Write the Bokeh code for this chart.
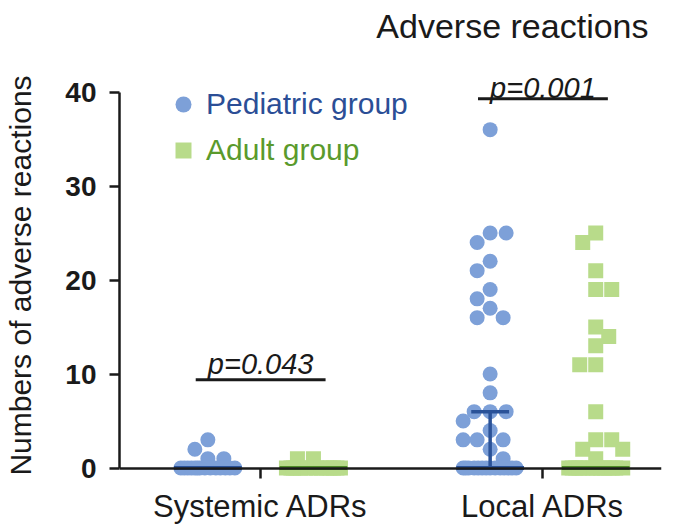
import numpy as np
from bokeh.plotting import figure
from bokeh.models import (Range1d, FixedTicker, Legend, LegendItem, ColumnDataSource,
                          LinearAxis)
from bokeh.embed import file_html
from bokeh.resources import INLINE

# ---------------- data ----------------
categories = ["Systemic ADRs", "Local ADRs"]
group_names = ["Pediatric group", "Adult group"]

pediatric_systemic = [3, 2, 1, 1,
                      0, 0, 0, 0, 0, 0, 0, 0, 0, 0, 0, 0, 0, 0]
pediatric_local = [36, 25, 25, 24, 22, 21, 19, 18, 17, 16, 16, 10, 8,
                   6, 6, 6, 5, 4, 3, 3, 3, 2, 1,
                   0, 0, 0, 0, 0, 0, 0, 0, 0, 0, 0, 0, 0, 0]
adult_systemic = [1, 1,
                  0, 0, 0, 0, 0, 0, 0, 0, 0, 0, 0, 0, 0, 0]
adult_local = [25, 24, 21, 19, 19, 15, 14, 13, 11, 11, 6, 3, 3, 2, 2, 1,
               0, 0, 0, 0, 0, 0, 0, 0, 0, 0, 0, 0, 0, 0]

# median and interquartile range (per category)
pediatric_median = [0, 0]
pediatric_q1 = [0, 0]
pediatric_q3 = [0, 6]
adult_median = [0, 0]
adult_q1 = [0, 0]
adult_q3 = [0, 0]

p_labels = ["p=0.043", "p=0.001"]
bracket_heights = [9.4, 39.3]
p_label_heights = [11.1, 40.4]

y_ticks = [0, 10, 20, 30, 40]
title_text = "Adverse reactions"
y_label = "Numbers of adverse reactions"

# ---------------- layout / style ----------------
FONT = "Liberation Sans"
X_START, X_END = 0.0, 1.92
Y_START, Y_END = -3.56, 44.53
FIG_W, FIG_H = 685, 527
B_LEFT, B_RIGHT, B_TOP, B_BOTTOM = 119, 24, 49, 26
FRAME_W = FIG_W - B_LEFT - B_RIGHT
FRAME_H = FIG_H - B_TOP - B_BOTTOM
PX_X = FRAME_W / (X_END - X_START)
PX_Y = FRAME_H / (Y_END - Y_START)
DODGE = 0.187
MEDIAN_HALF = 0.12
CAP_HALF = 0.067
BRACKET_HALF = 0.23

PED_COLOR = "#7DA0D8"
ADULT_COLOR = "#B8DB8A"
PED_DARK = "#2A5298"
ADULT_DARK = "#4F8C28"
PED_TEXT = "#2B4E96"
ADULT_TEXT = "#5A9A2C"
INK = "#1a1a1a"


def swarm(vals, d=16.0, cap=27.0):
    """Deterministic beeswarm offsets in screen pixels."""
    v = np.asarray(vals, dtype=float)
    order = np.argsort(-v, kind="stable")
    ys = v * PX_Y
    xs = np.zeros(len(v))
    placed = []
    grid = np.arange(-cap, cap + 0.01, 0.5)
    for k, i in enumerate(order):
        if not placed:
            xs[i] = 0.0
            placed.append(i)
            continue
        px = xs[placed]
        py = ys[placed]
        dist = np.sqrt((grid[:, None] - px[None, :]) ** 2
                       + (ys[i] - py[None, :]) ** 2).min(axis=1)
        ok = dist >= d
        if ok.any():
            cand = grid[ok]
            best = np.min(np.abs(cand))
            choices = cand[np.isclose(np.abs(cand), best)]
            xs[i] = choices.max() if k % 2 == 0 else choices.min()
        else:
            xs[i] = grid[np.argmax(dist)]
        placed.append(i)
    return xs


def build(series_list, dodge):
    xs, ys = [], []
    for ci, vals in enumerate(series_list):
        off = swarm(vals) / PX_X
        center = ci + 0.5 + dodge
        xs.extend(list(center + off))
        ys.extend(vals)
    return ColumnDataSource(dict(x=xs, y=ys))


p = figure(width=FIG_W, height=FIG_H,
           x_range=Range1d(X_START, X_END), y_range=Range1d(Y_START, Y_END),
           output_backend="svg", toolbar_location=None,
           min_border_left=B_LEFT, min_border_right=B_RIGHT,
           min_border_top=B_TOP, min_border_bottom=B_BOTTOM)
p.outline_line_color = None
p.xgrid.visible = False
p.ygrid.visible = False
p.background_fill_color = "white"
p.border_fill_color = "white"

# title
p.title.text = title_text
p.title.align = "right"
p.title.offset = 13
p.title.standoff = 9
p.title.text_font = FONT
p.title.text_font_size = "34px"
p.title.text_font_style = "normal"
p.title.text_color = INK

# scatter points
src_ped = build([pediatric_systemic, pediatric_local], -DODGE)
src_adult = build([adult_systemic, adult_local], DODGE)
r_ped = p.scatter("x", "y", source=src_ped, marker="circle", size=15,
                  fill_color=PED_COLOR, line_color=None)
r_adult = p.scatter("x", "y", source=src_adult, marker="square", size=15,
                    fill_color=ADULT_COLOR, line_color=None)

# median lines and interquartile bars
for dodge, med, q1, q3, col in [(-DODGE, pediatric_median, pediatric_q1, pediatric_q3, PED_DARK),
                                 (DODGE, adult_median, adult_q1, adult_q3, ADULT_DARK)]:
    centers = [i + 0.5 + dodge for i in range(len(categories))]
    p.segment(x0=[c - MEDIAN_HALF for c in centers], x1=[c + MEDIAN_HALF for c in centers],
              y0=med, y1=med, line_color=col, line_width=4)
    idx = [i for i in range(len(categories)) if q3[i] > q1[i]]
    if idx:
        cx = [centers[i] for i in idx]
        p.segment(x0=cx, x1=cx, y0=[q1[i] for i in idx], y1=[q3[i] for i in idx],
                  line_color=col, line_width=3.5)
        p.segment(x0=[c - CAP_HALF for c in cx], x1=[c + CAP_HALF for c in cx],
                  y0=[q3[i] for i in idx], y1=[q3[i] for i in idx],
                  line_color=col, line_width=3.5)
        p.segment(x0=[c - CAP_HALF for c in cx], x1=[c + CAP_HALF for c in cx],
                  y0=[q1[i] for i in idx], y1=[q1[i] for i in idx],
                  line_color=col, line_width=3.5)

# significance brackets
cat_centers = [i + 0.5 for i in range(len(categories))]
p.segment(x0=[c - BRACKET_HALF for c in cat_centers], x1=[c + BRACKET_HALF for c in cat_centers],
          y0=bracket_heights, y1=bracket_heights, line_color=INK, line_width=3)
p.text(x=cat_centers, y=p_label_heights, text=p_labels,
       text_font={"value": FONT}, text_font_size={"value": "29px"},
       text_font_style="italic", text_align="center", text_baseline="alphabetic",
       text_color=INK)

# y axis
p.yaxis.ticker = FixedTicker(ticks=y_ticks)
p.yaxis.bounds = (min(y_ticks), max(y_ticks))
p.yaxis.axis_label = y_label
p.yaxis.axis_label_text_font = FONT
p.yaxis.axis_label_text_font_size = "30px"
p.yaxis.axis_label_text_font_style = "normal"
p.yaxis.axis_label_text_color = INK
p.yaxis.axis_label_standoff = 25
p.yaxis.major_label_text_font = FONT
p.yaxis.major_label_text_font_size = "28px"
p.yaxis.major_label_text_font_style = "bold"
p.yaxis.major_label_text_color = INK
p.yaxis.major_label_standoff = 13
p.yaxis.axis_line_width = 2.5
p.yaxis.axis_line_color = INK
p.yaxis.major_tick_line_width = 2.5
p.yaxis.major_tick_line_color = INK
p.yaxis.major_tick_out = 10
p.yaxis.major_tick_in = 0
p.yaxis.minor_tick_line_color = None

# x axis: category labels on the regular bottom axis ...
xlab = p.xaxis[0]
xlab.ticker = FixedTicker(ticks=cat_centers)
xlab.major_label_overrides = {c: name for c, name in zip(cat_centers, categories)}
xlab.major_label_text_font = FONT
xlab.major_label_text_font_size = "31px"
xlab.major_label_text_color = INK
xlab.major_label_standoff = -13
xlab.axis_line_color = None
xlab.major_tick_line_color = None
xlab.major_tick_out = 0
xlab.major_tick_in = 0
xlab.minor_tick_line_color = None

# ... and the axis line with ticks sitting at zero
xline = LinearAxis(ticker=FixedTicker(ticks=cat_centers), fixed_location=0)
xline.major_label_text_color = None
xline.major_label_text_font_size = "1px"
xline.axis_line_width = 2.5
xline.axis_line_color = INK
xline.major_tick_line_width = 2.5
xline.major_tick_line_color = INK
xline.major_tick_out = 10
xline.major_tick_in = 0
xline.minor_tick_line_color = None
p.add_layout(xline, "below")

# legends (one per group so each label keeps its own colour);
# location = lower-left corner in px from the frame's lower-left corner
for rend, name, col, top_gap in [(r_ped, group_names[0], PED_TEXT, 35),
                                 (r_adult, group_names[1], ADULT_TEXT, 81)]:
    leg = Legend(items=[LegendItem(label=name, renderers=[rend])],
                 location=(44, FRAME_H - top_gap - 40))
    leg.glyph_width = 40
    leg.glyph_height = 40
    leg.label_standoff = 3
    leg.padding = 0
    leg.spacing = 0
    leg.margin = 0
    leg.border_line_color = None
    leg.background_fill_alpha = 0
    leg.label_text_font = FONT
    leg.label_text_font_size = "30px"
    leg.label_text_color = col
    p.add_layout(leg)

open("out.html", "w").write(file_html(p, INLINE))
